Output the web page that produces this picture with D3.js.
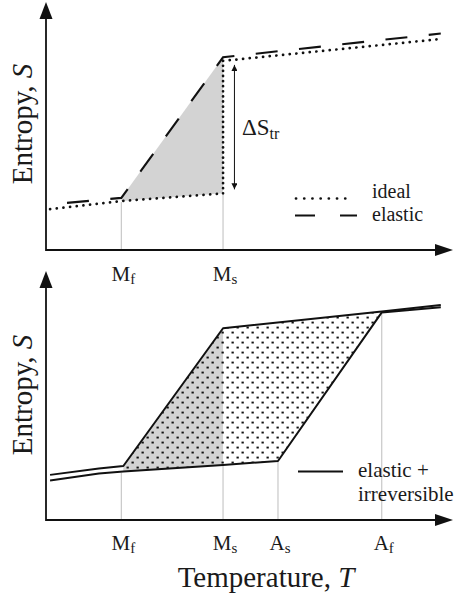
<!DOCTYPE html>
<html>
<head>
<meta charset="utf-8">
<script src="https://cdn.jsdelivr.net/npm/d3@7"></script>
<style>
  html, body { margin: 0; padding: 0; background: #fff; }
  svg { display: block; }
  text { font-family: "Liberation Serif", "Times New Roman", serif; fill: #1a1a1a; }
</style>
</head>
<body>
<svg id="chart" width="456" height="599"></svg>
<script>
// Transformation temperatures (arbitrary temperature units)
const Mf = 18.5, Ms = 43.5, As = 57, Af = 82.5;

// Top panel: ideal transformation (entropy jump at Ms)
const idealLowT  = [1, Mf, Ms];
const idealLowS  = [17.0, 20.4, 23.6];
const idealHighT = [Ms, 97];
const idealHighS = [78.8, 87.9];

// Top panel: elastic transformation (spread between Mf and Ms)
const elasticT = [1, Mf, Ms, 97];
const elasticS = [19.0, 21.7, 80.3, 90.2];

// Bottom panel: elastic + irreversible loop
const coolingT = [1, 13, 19, Ms, Af, 97];
const coolingS = [18.8, 21.5, 22.5, 79.9, 86.9, 89.6];
const heatingT = [1, 13, 19, Ms, As, Af, 97];
const heatingS = [16.5, 19.4, 20.2, 22.9, 24.6, 86.5, 88.6];

// Tick labels along the temperature axis
const topTickT    = [Mf, Ms];
const topTickMain = ["M", "M"];
const topTickSub  = ["f", "s"];
const botTickT    = [Mf, Ms, As, Af];
const botTickMain = ["M", "M", "A", "A"];
const botTickSub  = ["f", "s", "s", "f"];

const svg = d3.select("#chart");

const x = d3.scaleLinear().domain([0, 100]).range([46, 453]);
const yTop = d3.scaleLinear().domain([0, 100]).range([250, 10]);
const yBot = d3.scaleLinear().domain([0, 100]).range([520, 280]);

const zip = (ts, ss) => ts.map((t, i) => [t, ss[i]]);
const interp = (ts, ss, t) => {
  for (let i = 0; i < ts.length - 1; i++) {
    if (t >= ts[i] && t <= ts[i + 1]) {
      const f = (t - ts[i]) / (ts[i + 1] - ts[i]);
      return ss[i] + f * (ss[i + 1] - ss[i]);
    }
  }
  return ss[ss.length - 1];
};

// dotted fill pattern
const defs = svg.append("defs");
const pat = defs.append("pattern")
  .attr("id", "dots").attr("patternUnits", "userSpaceOnUse")
  .attr("width", 10).attr("height", 10);
pat.append("rect").attr("x", 1.5).attr("y", 1.6).attr("width", 2.3).attr("height", 1.9).attr("fill", "#111");
pat.append("rect").attr("x", 6.5).attr("y", 6.6).attr("width", 2.3).attr("height", 1.9).attr("fill", "#111");

// small arrowheads for the ΔS marker
defs.append("marker").attr("id", "tip").attr("viewBox", "0 0 10 10")
  .attr("refX", 10).attr("refY", 5).attr("markerWidth", 9).attr("markerHeight", 6)
  .attr("markerUnits", "userSpaceOnUse").attr("orient", "auto-start-reverse")
  .append("path").attr("d", "M0,0L10,5L0,10Z").attr("fill", "#111");

function drawAxes(y, tipY) {
  const x0 = x.range()[0], x1 = x.range()[1], y0 = y.range()[0];
  const g = svg.append("g");
  g.append("line").attr("x1", x0).attr("y1", y0).attr("x2", x1 - 10).attr("y2", y0)
    .attr("stroke", "#111").attr("stroke-width", 1.8);
  g.append("line").attr("x1", x0).attr("y1", y0 + 0.9).attr("x2", x0).attr("y2", tipY + 10)
    .attr("stroke", "#111").attr("stroke-width", 1.8);
  g.append("path").attr("d", `M${x1},${y0}L${x1 - 18},${y0 - 6}L${x1 - 18},${y0 + 6}Z`).attr("fill", "#111");
  g.append("path").attr("d", `M${x0},${tipY}L${x0 - 6.5},${tipY + 17}L${x0 + 6.5},${tipY + 17}Z`).attr("fill", "#111");
}

function drawTicks(y, ts, mains, subs, baseY) {
  ts.forEach((t, i) => {
    const txt = svg.append("text").attr("x", x(t) + 2).attr("y", baseY)
      .attr("text-anchor", "middle").attr("font-size", 21);
    txt.append("tspan").text(mains[i]);
    txt.append("tspan").attr("font-size", 15).attr("dy", 3).text(subs[i]);
  });
}

function yLabel(cy) {
  svg.append("text").attr("transform", `translate(32,${cy}) rotate(-90)`)
    .attr("text-anchor", "middle").attr("font-size", 29)
    .html('Entropy, <tspan font-style="italic">S</tspan>');
}

const line = (y) => d3.line().x(d => x(d[0])).y(d => y(d[1]));

// ---------------- Top panel ----------------
// shaded area between elastic ramp and ideal path
const topArea = [
  [Mf, elasticS[1]], [Ms, elasticS[2]], [Ms, idealLowS[2]], [Mf, idealLowS[1]]
];
svg.append("path").attr("d", line(yTop)(topArea) + "Z").attr("fill", "#d3d3d3");

// guide lines at Mf and Ms
[[Mf, idealLowS[1]], [Ms, idealLowS[2]]].forEach(([t, s]) => {
  svg.append("line").attr("x1", x(t)).attr("x2", x(t)).attr("y1", yTop(s) + 1).attr("y2", yTop(0))
    .attr("stroke", "#bdbdbd").attr("stroke-width", 1);
});

// elastic (dashed)
svg.append("path").attr("d", line(yTop)(zip(elasticT, elasticS)))
  .attr("fill", "none").attr("stroke", "#111").attr("stroke-width", 2.1)
  .attr("stroke-dasharray", "22,21.5").attr("stroke-dashoffset", -17);

// ideal (dotted): low branch, jump at Ms, high branch
const dotted = (pts, gap) => svg.append("path").attr("d", line(yTop)(pts))
  .attr("fill", "none").attr("stroke", "#111").attr("stroke-width", 2.7)
  .attr("stroke-linecap", "round").attr("stroke-dasharray", `0.1,${gap}`);
dotted(zip(idealLowT, idealLowS), 6.6);
dotted([[Ms, idealLowS[2]], [Ms, idealHighS[0]]], 5);
dotted(zip(idealHighT, idealHighS), 6.6);

// ΔS_tr marker
const dsT = 46.3;
svg.append("line").attr("x1", x(dsT)).attr("x2", x(dsT))
  .attr("y1", yTop(idealHighS[0]) + 4).attr("y2", yTop(idealLowS[2]) - 4)
  .attr("stroke", "#111").attr("stroke-width", 1)
  .attr("marker-start", "url(#tip)").attr("marker-end", "url(#tip)");
const ds = svg.append("text").attr("x", x(dsT) + 7.5).attr("y", 135).attr("font-size", 23);
ds.append("tspan").text("ΔS");
ds.append("tspan").attr("font-size", 16).attr("dy", 4).text("tr");

// legend
svg.append("line").attr("x1", 296).attr("x2", 353).attr("y1", 198.5).attr("y2", 198.5)
  .attr("stroke", "#111").attr("stroke-width", 2.7).attr("stroke-linecap", "round")
  .attr("stroke-dasharray", "0.1,8.1");
svg.append("text").attr("x", 372).attr("y", 198).attr("font-size", 20).text("ideal");
svg.append("line").attr("x1", 295).attr("x2", 357).attr("y1", 215.5).attr("y2", 215.5)
  .attr("stroke", "#111").attr("stroke-width", 2.1).attr("stroke-dasharray", "20,25");
svg.append("text").attr("x", 372).attr("y", 220.5).attr("font-size", 20).text("elastic");

drawAxes(yTop, 2);
drawTicks(yTop, topTickT, topTickMain, topTickSub, 281);
yLabel(124);

// ---------------- Bottom panel ----------------
const loopIdxC = coolingT.indexOf(19);
const loopIdxH = heatingT.indexOf(19);
const cool = zip(coolingT, coolingS);
const heat = zip(heatingT, heatingS);
const afC = coolingT.indexOf(Af), afH = heatingT.indexOf(Af);

// grey wedge between Mf and Ms
const wedge = [
  cool[loopIdxC], [Ms, interp(coolingT, coolingS, Ms)],
  [Ms, interp(heatingT, heatingS, Ms)], heat[loopIdxH]
];
svg.append("path").attr("d", line(yBot)(wedge) + "Z").attr("fill", "#d3d3d3");

// dotted hysteresis loop
const loop = cool.slice(loopIdxC, afC + 1).concat(heat.slice(loopIdxH, afH + 1).reverse());
svg.append("path").attr("d", line(yBot)(loop) + "Z").attr("fill", "url(#dots)");

// guide lines
botTickT.forEach(t => {
  svg.append("line").attr("x1", x(t)).attr("x2", x(t))
    .attr("y1", yBot(interp(heatingT, heatingS, t)) + 1).attr("y2", yBot(0))
    .attr("stroke", "#bdbdbd").attr("stroke-width", 1);
});

[cool, heat].forEach(pts => {
  svg.append("path").attr("d", line(yBot)(pts))
    .attr("fill", "none").attr("stroke", "#111").attr("stroke-width", 2)
    .attr("stroke-linejoin", "round");
});

// legend
svg.append("line").attr("x1", 298).attr("x2", 343).attr("y1", 471.5).attr("y2", 471.5)
  .attr("stroke", "#111").attr("stroke-width", 2);
svg.append("text").attr("x", 358).attr("y", 476.5).attr("font-size", 21).text("elastic +");
svg.append("text").attr("x", 358).attr("y", 500.5).attr("font-size", 21).text("irreversible");

drawAxes(yBot, 271);
drawTicks(yBot, botTickT, botTickMain, botTickSub, 550);
yLabel(395);

svg.append("text").attr("x", 266).attr("y", 587).attr("text-anchor", "middle")
  .attr("font-size", 29).html('Temperature, <tspan font-style="italic">T</tspan>');
</script>
</body>
</html>
